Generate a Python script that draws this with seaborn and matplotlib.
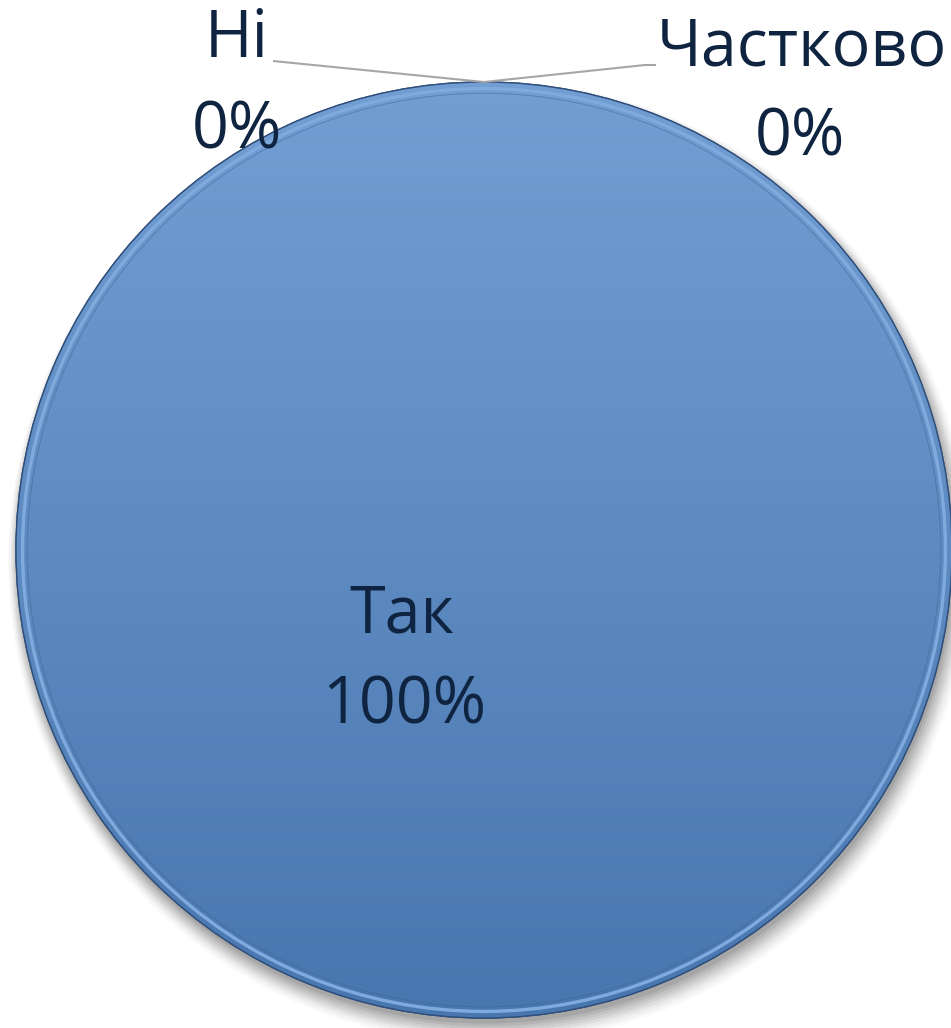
import numpy as np
import matplotlib
matplotlib.use("Agg")
import matplotlib.pyplot as plt
import matplotlib.patches as mpatches
import seaborn as sns

# --- Data ---
categories = ["Так", "Ні", "Частково"]
values = [100, 0, 0]
percent_labels = ["100%", "0%", "0%"]

# --- Style ---
sns.set_theme(style="white")
plt.rcParams["font.family"] = ["Open Sans", "DejaVu Sans"]
text_color = "#0f2440"
top_blue = np.array([0x72, 0x9e, 0xd4]) / 255
bottom_blue = np.array([0x48, 0x76, 0xae]) / 255

W, H = 951, 1028
fig = plt.figure(figsize=(W / 100, H / 100), dpi=100)
ax = fig.add_axes([0, 0, 1, 1])

# pixel geometry -> radius units
R_px = 468.0
cx_px, cy_px = 484.0, 550.0


def px(x, y):
    return (x - cx_px) / R_px, (cy_px - y) / R_px


# soft shadow below the pie
for i, a in enumerate(np.linspace(0.08, 0.02, 8)):
    sh = mpatches.Circle((0.004 + i * 0.001, -0.012 - i * 0.002), 1.0 + i * 0.004,
                         color="black", alpha=a, lw=0, zorder=0)
    ax.add_patch(sh)

wedges, _ = ax.pie(values, startangle=90, counterclock=False,
                   colors=[bottom_blue] * len(values),
                   wedgeprops={"edgecolor": "#2f4f7a", "linewidth": 1.0})
for w in wedges:
    w.set_zorder(2)

# vertical gradient clipped to the main wedge
grad = np.linspace(0, 1, 256)[:, None]
rgb = top_blue[None, None, :] * (1 - grad[..., None]) + bottom_blue[None, None, :] * grad[..., None]
rgb = np.repeat(rgb, 2, axis=1)
im = ax.imshow(rgb, extent=(-1, 1, -1, 1), origin="upper", aspect="auto", zorder=3)
im.set_clip_path(wedges[0])

ax.set_xlim(-cx_px / R_px, (W - cx_px) / R_px)
ax.set_ylim(-(H - cy_px) / R_px, cy_px / R_px)
ax.set_aspect("auto")
ax.axis("off")

# bevel rim
ax.add_patch(mpatches.Circle((0, 0), 0.986, fill=False, ec="#7faade", lw=2.4, zorder=4))
ax.add_patch(mpatches.Circle((0, 0), 0.976, fill=False, ec="#3f6596", lw=0.7, alpha=0.5, zorder=4))
ax.add_patch(mpatches.Circle((0, 0), 1.0, fill=False, ec="#2f4f7a", lw=1.0, zorder=5))

# labels (each line on its own baseline)
fs = 46.5
label_lines = [
    (categories[0], 402, 632), (percent_labels[0], 404, 723),
    (categories[1], 237, 57), (percent_labels[1], 237, 148),
    (categories[2], 802, 65), (percent_labels[2], 800, 155),
]
for txt, x, y in label_lines:
    tx, ty = px(x, y)
    ax.text(tx, ty, txt, ha="center", va="baseline", fontsize=fs,
            color=text_color, zorder=6)

# leader lines from the zero-size slices at the top of the pie
top_pt = (0.0, 1.0)
line_kw = dict(color="#a6a6a6", lw=1.5, zorder=6, solid_capstyle="butt")
a = px(273, 61)
ax.plot([a[0], top_pt[0]], [a[1], top_pt[1]], **line_kw)
b, c = px(645, 65), px(656, 65)
ax.plot([top_pt[0], b[0], c[0]], [top_pt[1], b[1], c[1]], **line_kw)

fig.savefig("out.png", dpi=100)
